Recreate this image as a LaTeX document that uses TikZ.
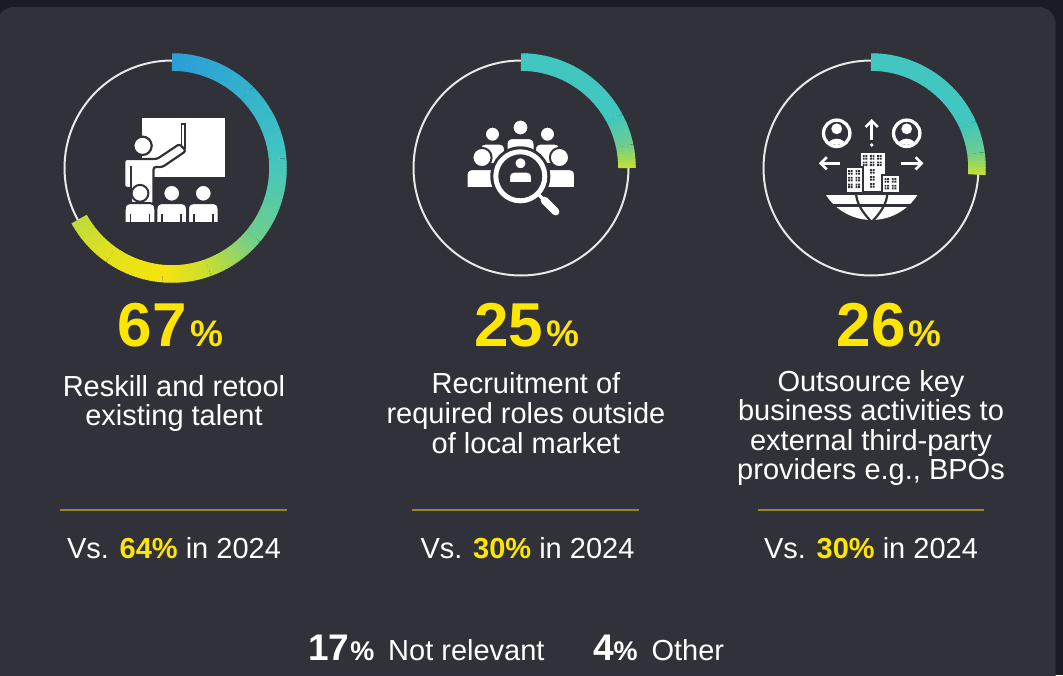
\documentclass[tikz,border=0pt]{standalone}
\usepackage{fontspec}
\setmainfont{Liberation Sans}
\definecolor{panel}{RGB}{49,49,58}
\definecolor{outerbg}{RGB}{27,27,35}
\definecolor{eyyellow}{RGB}{255,230,0}
\definecolor{sepline}{RGB}{150,136,40}
\definecolor{ringgray}{RGB}{232,232,232}
\definecolor{g1}{RGB}{42,158,214}
\definecolor{g2}{RGB}{52,178,205}
\definecolor{g3}{RGB}{66,198,192}
\definecolor{g4}{RGB}{110,206,140}
\definecolor{g5}{RGB}{200,222,50}
\definecolor{g6}{RGB}{246,228,12}
\definecolor{g7}{RGB}{228,226,28}
\definecolor{g8}{RGB}{192,218,58}
\definecolor{g9}{RGB}{200,224,48}
% gradient arc segment: #1 centre, #2 start angle, #3 end angle, #4 colour at start, #5 colour at end
\newcommand\gseg[5]{%
  \pgfmathsetmacro\gsD{(#2)-(#3)}%
  \pgfmathtruncatemacro\gsN{max(1,ceil(\gsD/1.5))}%
  \foreach \k in {1,...,\gsN}{%
    \pgfmathsetmacro\gsA{(#2)-(\k-1)*\gsD/\gsN}%
    \pgfmathsetmacro\gsB{max((#2)-\k*\gsD/\gsN-0.6,(#3))}%
    \pgfmathtruncatemacro\gsP{round(100-100*(\k-0.5)/\gsN)}%
    \draw[line width=17.5pt, draw=#4!\gsP!#5] ([shift={(\gsA:106)}]#1) arc[start angle=\gsA, end angle=\gsB, radius=106];
  }%
}
% bust: #1 cx, #2 head cy, #3 head r, #4 half width, #5 body top, #6 body bottom
\newcommand\bust[6]{%
  \filldraw[white, draw=panel, line width=2pt] (#1-#4,-#6) -- (#1-#4,-#5-6) .. controls (#1-#4,-#5-1) and (#1-#4+3,-#5) .. (#1-#4+8,-#5) -- (#1+#4-8,-#5) .. controls (#1+#4-3,-#5) and (#1+#4,-#5-1) .. (#1+#4,-#5-6) -- (#1+#4,-#6) -- cycle;
  \filldraw[white, draw=panel, line width=2pt] (#1,-#2) circle[radius=#3];
}
% window with four panes, top-left corner at (#1,-#2)
\newcommand\win[2]{%
  \fill[panel] (#1,-#2) rectangle ++(1.9,-1.9) (#1+2.6,-#2) rectangle ++(1.9,-1.9)
               (#1,-#2-2.6) rectangle ++(1.9,-1.9) (#1+2.6,-#2-2.6) rectangle ++(1.9,-1.9);
}
\newcommand\bignum[2]{{\fontsize{62}{62}\selectfont #1}\hspace{#2}{\fontsize{37}{37}\selectfont\%}}
\tikzset{
  body/.style={text=white, font=\fontsize{29}{29}\selectfont, inner sep=0pt, anchor=base},
  big/.style={text=eyyellow, font=\bfseries, inner sep=0pt, anchor=base west},
  bot/.style={text=white, inner sep=0pt, anchor=base west},
  sep/.style={draw=sepline, line width=1.4pt},
  thinring/.style={draw=ringgray, line width=2pt},
  wline/.style={draw=white, line width=2.5pt},
}
\begin{document}
\begin{tikzpicture}[x=1pt,y=1pt]
\useasboundingbox (0,0) rectangle (1063,-675);
\fill[outerbg] (0,0) rectangle (1063,-675);
\fill[panel, rounded corners=17pt] (-3,-7) rectangle (1055.7,-720);

% ring centres
\coordinate (c1) at (172,-168);
\coordinate (c2) at (521,-168);
\coordinate (c3) at (871,-168);

\draw[thinring] (c1) circle[radius=107.5];
\draw[thinring] (c2) circle[radius=107.5];
\draw[thinring] (c3) circle[radius=107.5];

% ring 1 : 67%
\gseg{c1}{90}{45}{g1}{g2}
\gseg{c1}{45}{5}{g2}{g3}
\gseg{c1}{5}{-40}{g3}{g4}
\gseg{c1}{-40}{-70}{g4}{g5}
\gseg{c1}{-70}{-95}{g5}{g6}
\gseg{c1}{-95}{-125}{g6}{g7}
\gseg{c1}{-125}{-151.2}{g7}{g8}
% ring 2 : 25%
\gseg{c2}{90}{28}{g3}{g3}
\gseg{c2}{28}{12}{g3}{g4}
\gseg{c2}{12}{0}{g4}{g9}
% ring 3 : 26%
\gseg{c3}{90}{24}{g3}{g3}
\gseg{c3}{24}{8}{g3}{g4}
\gseg{c3}{8}{-3.6}{g4}{g9}

% ---------- icon 1: teacher and class ----------
\fill[white] (142,-118) rectangle (225,-177);
\draw[panel, line width=5.5pt] (183.3,-123) -- (183.3,-149);
\draw[white, line width=2.2pt] (183.3,-124.5) -- (183.3,-149);
\filldraw[white, draw=panel, line width=2.2pt, rounded corners=2.5pt]
  (124.3,-188) -- (124.3,-159) -- (157,-159) -- (179.5,-144) -- (186,-151) -- (162.5,-167) -- (153.5,-167) -- (153.5,-205) -- (131,-205) -- (131,-188) -- cycle;
\draw[panel, line width=1.6pt] (130.8,-166) -- (130.8,-189);
\filldraw[white, draw=panel, line width=2.2pt] (142.5,-145.8) circle[radius=9.2];
\foreach \cx in {140,171.7,203.3}{
  \bust{\cx}{193.3}{8.4}{15.3}{203}{223}
  \draw[panel, line width=1.5pt] (\cx-9.5,-214) -- (\cx-9.5,-224) (\cx+9.5,-214) -- (\cx+9.5,-224);
}

% ---------- icon 2: search among people ----------
\bust{520.5}{127.5}{8}{14}{138}{158}
\bust{492.5}{134.2}{7.6}{12.5}{143.5}{164}
\bust{547.5}{134.2}{7.6}{12.5}{143.5}{164}
\bust{482}{157.5}{9.6}{15.5}{169}{188}
\bust{559.5}{157.5}{9.6}{15.5}{169}{188}
\coordinate (m) at (520.3,-176.3);
\fill[panel] (m) circle[radius=30];
\fill[white, even odd rule] (m) circle[radius=27] (m) circle[radius=22];
\begin{scope}
  \clip (m) circle[radius=20.5];
  \bust{520.5}{163.3}{6}{11.5}{171.5}{183}
\end{scope}
\draw[white, line width=3.5pt] ([shift={(-45:26)}]m) -- ([shift={(-45:35)}]m);
\draw[white, line width=7.5pt, line cap=round] ([shift={(-45:34)}]m) -- ([shift={(-45:50)}]m);

% ---------- icon 3: outsourcing ----------
\foreach \px in {836.7,906.7}{
  \draw[white, line width=3.3pt] (\px,-133.3) circle[radius=13.2];
  \begin{scope}
    \clip (\px,-133.3) circle[radius=11.6];
    \fill[white] (\px,-128.8) circle[radius=5.4];
    \fill[white] (\px,-148.5) ellipse[x radius=10.5, y radius=9.8];
  \end{scope}
}
\draw[wline] (871.7,-139.5) -- (871.7,-121.5);
\draw[wline, line join=miter] (865.6,-127) -- (871.7,-120.8) -- (877.8,-127);
\fill[white] (871.7,-145) circle[radius=1.8];
\draw[wline] (840,-163.3) -- (821.5,-163.3);
\draw[wline, line join=miter] (826.8,-157.2) -- (820.7,-163.3) -- (826.8,-169.4);
\draw[wline] (900.5,-163.3) -- (921,-163.3);
\draw[wline, line join=miter] (915.6,-157.2) -- (921.7,-163.3) -- (915.6,-169.4);
% buildings
\fill[white] (860.5,-152.5) rectangle (885,-191);
\foreach \wx in {862.8,869.9,877}{\foreach \wy in {155,161.5}{\win{\wx}{\wy}}}
\foreach \wy in {169,176,183}{\win{870.2}{\wy}}
\filldraw[white, draw=panel, line width=2pt] (845.5,-166.5) rectangle (863.3,-192.5);
\foreach \wx in {848.2,855.5}{\foreach \wy in {170,176.8,183.6}{\win{\wx}{\wy}}}
\filldraw[white, draw=panel, line width=2pt] (881.7,-174.5) rectangle (900,-192.5);
\foreach \wx in {884.5,891.8}{\foreach \wy in {178.2,184.8}{\win{\wx}{\wy}}}
% globe
\fill[white] (826,-195) arc[start angle=212.7, end angle=327.3, radius=54.3] -- cycle;
\draw[panel, line width=2.4pt] (820,-205.5) -- (925,-205.5);
\draw[panel, line width=2.2pt] (856,-193) .. controls (856.5,-203) and (862,-212) .. (871.7,-222);
\draw[panel, line width=2.2pt] (887.4,-193) .. controls (886.9,-203) and (881.4,-212) .. (871.7,-222);

% ---------- column 1 ----------
\node[big] (p1) at (117.5,-346.5) {\bignum{67}{4pt}};
\node[body] (t1a) at (174,-396) {Reskill and retool};
\node[body] (t1b) at (174,-425) {existing talent};
\coordinate (s1a) at (60,-510); \coordinate (s1b) at (286.7,-510);
\draw[sep] (s1a) -- (s1b);
\node[body] (v1) at (174,-558.3) {Vs. \textcolor{eyyellow}{\bfseries 64\%} in 2024};

% ---------- column 2 ----------
\node[big] (p2) at (474,-346) {\bignum{25}{3pt}};
\node[body] (t2a) at (526,-393.3) {Recruitment of};
\node[body] (t2b) at (526,-423.3) {required roles outside};
\node[body] (t2c) at (526,-453.3) {of local market};
\coordinate (s2a) at (412.3,-510); \coordinate (s2b) at (639,-510);
\draw[sep] (s2a) -- (s2b);
\node[body] (v2) at (527.5,-558.3) {Vs. \textcolor{eyyellow}{\bfseries 30\%} in 2024};

% ---------- column 3 ----------
\node[big] (p3) at (836.5,-346) {\bignum{26}{2.5pt}};
\node[body] (t3a) at (871,-391.7) {Outsource key};
\node[body] (t3b) at (871,-420.7) {business activities to};
\node[body] (t3c) at (871,-450) {external third-party};
\node[body] (t3d) at (871,-479.5) {providers e.g., BPOs};
\coordinate (s3a) at (757.7,-510); \coordinate (s3b) at (984.3,-510);
\draw[sep] (s3a) -- (s3b);
\node[body] (v3) at (871,-558.3) {Vs. \textcolor{eyyellow}{\bfseries 30\%} in 2024};

% ---------- bottom legend ----------
\node[bot, font=\bfseries] (n17) at (308,-660) {{\fontsize{37}{37}\selectfont 17}\hspace{1pt}{\fontsize{27}{27}\selectfont\%}};
\node[bot, font=\fontsize{29}{29}\selectfont] (nrel) at (388,-660) {Not relevant};
\node[bot, font=\bfseries] (n4) at (592.8,-660) {{\fontsize{37}{37}\selectfont 4}{\fontsize{27}{27}\selectfont\%}};
\node[bot, font=\fontsize{29}{29}\selectfont] (noth) at (651.3,-660) {Other};
\end{tikzpicture}
\end{document}
